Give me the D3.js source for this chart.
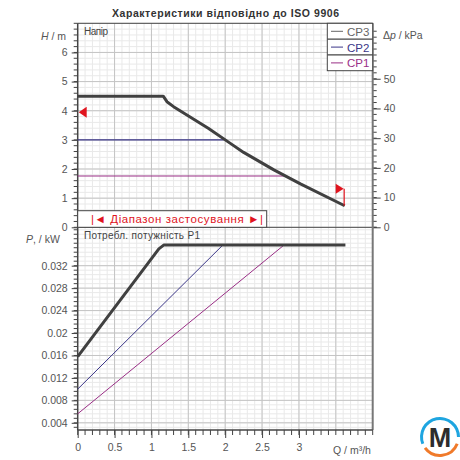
<!DOCTYPE html>
<html>
<head>
<meta charset="utf-8">
<script src="https://cdn.jsdelivr.net/npm/d3@7"></script>
<style>
  body { margin: 0; background: #fff; }
  svg { font-family: "Liberation Sans", Arial, sans-serif; }
</style>
</head>
<body>
<svg id="chart" width="460" height="460"></svg>
<script>
// head curves (H / m against Q / m3/h)
const qCP3 = [0, 1.16, 1.21, 1.30, 1.77, 2.07, 2.25, 2.66, 3.02, 3.62];
const hCP3 = [4.5, 4.5, 4.31, 4.14, 3.40, 2.88, 2.57, 1.97, 1.49, 0.74];
const qCP2 = [0, 1.98];
const hCP2 = [3.0, 3.0];
const qCP1 = [0, 2.8];
const hCP1 = [1.76, 1.76];

// power curves (P1 / kW)
const qP3 = [0, 1.1, 1.17, 3.63];
const pP3 = [0.0158, 0.0350, 0.0357, 0.0357];
const qP2 = [0, 1.97];
const pP2 = [0.0100, 0.0357];
const qP1 = [0, 2.8];
const pP1 = [0.0056, 0.0357];

// tick labels
const qTicks = [0, 0.5, 1, 1.5, 2, 2.5, 3];
const hTicks = [0, 1, 2, 3, 4, 5, 6];
const kpaTicks = [0, 10, 20, 30, 40, 50];
const pTicks = [0.004, 0.008, 0.012, 0.016, 0.02, 0.024, 0.028, 0.032];

const seriesNames = ['CP3', 'CP2', 'CP1'];
const seriesColors = ['#404040', '#3b3688', '#9a2f86'];
const labelColors = ['#666', '#3b3688', '#9a2f86'];

const svg = d3.select('#chart');

const leftX = 77.7, rightX = 372.7, topY = 23.3, midY = 227.3, bottomY = 430;

const x = d3.scaleLinear().domain([0, 4]).range([leftX, rightX]);
const yH = d3.scaleLinear().domain([0, 7]).range([midY, topY]);
const yK = d3.scaleLinear().domain([0, 7 * 9.81]).range([midY, topY]);
const yP = d3.scaleLinear().domain([0.00272, 0.03884]).range([bottomY, midY]);

const grid = svg.append('g');

// minor grid
grid.selectAll('.vmin').data(d3.range(0, 4.01, 0.1)).enter().append('line')
    .attr('x1', d => x(d)).attr('x2', d => x(d))
    .attr('y1', topY).attr('y2', bottomY)
    .attr('stroke', '#e9e9e9');
grid.selectAll('.hmin').data(d3.range(0, 7.01, 0.2)).enter().append('line')
    .attr('x1', leftX).attr('x2', rightX)
    .attr('y1', d => yH(d)).attr('y2', d => yH(d))
    .attr('stroke', '#e9e9e9');
grid.selectAll('.pmin').data(d3.range(0.0032, 0.0388, 0.0008)).enter().append('line')
    .attr('x1', leftX).attr('x2', rightX)
    .attr('y1', d => yP(d)).attr('y2', d => yP(d))
    .attr('stroke', '#e9e9e9');

// major grid
grid.selectAll('.vmaj').data(d3.range(0.5, 4, 0.5)).enter().append('line')
    .attr('x1', d => x(d)).attr('x2', d => x(d))
    .attr('y1', topY).attr('y2', bottomY)
    .attr('stroke', '#c4c4c4');
grid.selectAll('.hmaj').data(d3.range(1, 7, 1)).enter().append('line')
    .attr('x1', leftX).attr('x2', rightX)
    .attr('y1', d => yH(d)).attr('y2', d => yH(d))
    .attr('stroke', '#c4c4c4');
grid.selectAll('.pmaj').data(pTicks).enter().append('line')
    .attr('x1', leftX).attr('x2', rightX)
    .attr('y1', d => yP(d)).attr('y2', d => yP(d))
    .attr('stroke', '#c4c4c4');

// frame
svg.append('line').attr('x1', leftX).attr('x2', rightX).attr('y1', topY).attr('y2', topY)
    .attr('stroke', '#444');
svg.append('line').attr('x1', leftX).attr('x2', rightX + 4).attr('y1', midY).attr('y2', midY)
    .attr('stroke', '#444');

// axes
const tickColor = '#444';
const axisH = d3.axisLeft(yH).tickValues(hTicks).tickSize(6).tickPadding(4).tickFormat(d3.format('d'));
const axisP = d3.axisLeft(yP).tickValues(pTicks).tickSize(6).tickPadding(4).tickFormat(d => String(+d.toFixed(3)));
const axisK = d3.axisRight(yK).tickValues(kpaTicks).tickSize(8).tickPadding(3).tickFormat(d3.format('d'));
const axisQ = d3.axisBottom(x).tickValues(qTicks).tickSize(8).tickPadding(6).tickFormat(d => String(d));

function styleAxis(g) {
    g.select('.domain').remove();
    g.selectAll('line').attr('stroke', tickColor);
    g.selectAll('text').attr('fill', '#555').attr('font-size', 10.5)
        .attr('font-family', '"Liberation Sans", Arial, sans-serif');
}

// minor ticks
svg.append('g').selectAll('line').data(d3.range(0, 7.01, 0.2)).enter().append('line')
    .attr('x1', leftX - 4).attr('x2', leftX).attr('y1', d => yH(d)).attr('y2', d => yH(d))
    .attr('stroke', tickColor);
svg.append('g').selectAll('line').data(d3.range(0.0032, 0.0388, 0.0008)).enter().append('line')
    .attr('x1', leftX - 4).attr('x2', leftX).attr('y1', d => yP(d)).attr('y2', d => yP(d))
    .attr('stroke', tickColor);
svg.append('g').selectAll('line').data(d3.range(0, 68, 2)).enter().append('line')
    .attr('x1', rightX).attr('x2', rightX + 4).attr('y1', d => yK(d)).attr('y2', d => yK(d))
    .attr('stroke', tickColor);
svg.append('g').selectAll('line').data(d3.range(0, 4.01, 0.1)).enter().append('line')
    .attr('x1', d => x(d)).attr('x2', d => x(d)).attr('y1', bottomY).attr('y2', bottomY + 5)
    .attr('stroke', tickColor);

svg.append('g').attr('transform', `translate(${leftX},0)`).call(axisH).call(styleAxis);
svg.append('g').attr('transform', `translate(${leftX},0)`).call(axisP).call(styleAxis);
svg.append('g').attr('transform', `translate(${rightX},0)`).call(axisK).call(styleAxis);
svg.append('g').attr('transform', `translate(0,${bottomY})`).call(axisQ).call(styleAxis);

// axis lines
svg.append('line').attr('x1', leftX).attr('x2', leftX).attr('y1', topY).attr('y2', bottomY)
    .attr('stroke', '#444').attr('stroke-width', 1.5);
svg.append('line').attr('x1', rightX).attr('x2', rightX).attr('y1', topY).attr('y2', bottomY)
    .attr('stroke', '#777').attr('stroke-width', 2);
svg.append('line').attr('x1', leftX).attr('x2', rightX).attr('y1', bottomY).attr('y2', bottomY)
    .attr('stroke', '#444').attr('stroke-width', 1.5);

// curves
const lineH = d3.line().x(d => x(d[0])).y(d => yH(d[1]));
const lineP = d3.line().x(d => x(d[0])).y(d => yP(d[1]));

const headData = [d3.zip(qCP3, hCP3), d3.zip(qCP2, hCP2), d3.zip(qCP1, hCP1)];
const powerData = [d3.zip(qP3, pP3), d3.zip(qP2, pP2), d3.zip(qP1, pP1)];

[2, 1].forEach(i => {
    svg.append('path').attr('d', lineH(headData[i])).attr('fill', 'none')
        .attr('stroke', seriesColors[i]).attr('stroke-width', 1.2);
    svg.append('path').attr('d', lineP(powerData[i])).attr('fill', 'none')
        .attr('stroke', seriesColors[i]).attr('stroke-width', 1);
});
svg.append('path').attr('d', lineH(headData[0])).attr('fill', 'none')
    .attr('stroke', seriesColors[0]).attr('stroke-width', 3).attr('stroke-linejoin', 'round');
svg.append('path').attr('d', lineP(powerData[0])).attr('fill', 'none')
    .attr('stroke', seriesColors[0]).attr('stroke-width', 3).attr('stroke-linejoin', 'round');

// red markers
const red = '#e0141e';
svg.append('path')
    .attr('d', `M${x(0) + 1},${yH(3.95)} L${x(0) + 9},${yH(3.95) - 5.5} L${x(0) + 9},${yH(3.95) + 5.5} Z`)
    .attr('fill', red);
const qEnd = qCP3[qCP3.length - 1], hEnd = hCP3[hCP3.length - 1];
svg.append('line').attr('x1', x(qEnd) - 0.5).attr('x2', x(qEnd) - 0.5)
    .attr('y1', yH(hEnd) - 17).attr('y2', yH(hEnd)).attr('stroke', red).attr('stroke-width', 1.2);
svg.append('path')
    .attr('d', `M${x(qEnd) - 9},${yH(hEnd) - 22} L${x(qEnd) - 1},${yH(hEnd) - 17} L${x(qEnd) - 9},${yH(hEnd) - 12} Z`)
    .attr('fill', red);

// range box
svg.append('rect').attr('x', leftX).attr('y', 210.7).attr('width', 189).attr('height', 16.6)
    .attr('fill', '#fff').attr('stroke', '#444');
svg.append('text').attr('x', 91).attr('y', 223).attr('fill', red).attr('font-size', 11.5)
    .attr('textLength', 172).attr('lengthAdjust', 'spacing')
    .text('|◄ Діапазон застосування ►|');

// panel labels
svg.append('text').attr('x', 84).attr('y', 239).attr('fill', '#444').attr('font-size', 10)
    .attr('textLength', 116).attr('lengthAdjust', 'spacing')
    .text('Потребл. потужність P1');
svg.append('text').attr('x', 84).attr('y', 35).attr('fill', '#444').attr('font-size', 10)
    .attr('textLength', 24).attr('lengthAdjust', 'spacing').text('Напір');

// legend
const legend = svg.append('g');
const rowH = 15.8;
legend.append('rect').attr('x', 327.3).attr('y', topY).attr('width', rightX - 327.3).attr('height', rowH * 3)
    .attr('fill', '#fff').attr('stroke', '#444');
seriesNames.forEach((name, i) => {
    const y0 = topY + i * rowH;
    if (i > 0) legend.append('line').attr('x1', 327.3).attr('x2', rightX).attr('y1', y0).attr('y2', y0)
        .attr('stroke', '#444').attr('stroke-width', 1.3);
    legend.append('line').attr('x1', 331).attr('x2', 343).attr('y1', y0 + 8).attr('y2', y0 + 8)
        .attr('stroke', labelColors[i]);
    legend.append('text').attr('x', 347).attr('y', y0 + 12.5).attr('fill', labelColors[i])
        .attr('font-size', 11.5).text(name);
});

// title and axis titles
svg.append('text').attr('x', 112).attr('y', 17).attr('fill', '#333').attr('font-size', 10.5)
    .attr('font-weight', 'bold').attr('textLength', 227).attr('lengthAdjust', 'spacing')
    .text('Характеристики відповідно до ISO 9906');

const hLabel = svg.append('text').attr('x', 41).attr('y', 40).attr('fill', '#555').attr('font-size', 10.5);
hLabel.append('tspan').attr('font-style', 'italic').text('H');
hLabel.append('tspan').text(' / m');

const kLabel = svg.append('text').attr('x', 383).attr('y', 39).attr('fill', '#555').attr('font-size', 10.5);
kLabel.append('tspan').text('Δ');
kLabel.append('tspan').attr('font-style', 'italic').text('p');
kLabel.append('tspan').text(' / kPa');

const pLabel = svg.append('text').attr('x', 26).attr('y', 243).attr('fill', '#555').attr('font-size', 10.5);
pLabel.append('tspan').attr('font-style', 'italic').text('P');
pLabel.append('tspan').text(', / kW');

svg.append('text').attr('x', 333).attr('y', 454).attr('fill', '#555').attr('font-size', 10.5)
    .text('Q / m³/h');

// logo
const logo = svg.append('g').attr('transform', 'translate(440,437)');
const arc = d3.arc().innerRadius(17).outerRadius(20);
logo.append('path').attr('d', arc({ startAngle: -Math.PI * 0.62, endAngle: Math.PI * 0.5 }))
    .attr('fill', '#1ea5e0');
logo.append('path').attr('d', arc({ startAngle: Math.PI * 0.62, endAngle: Math.PI * 1.3 }))
    .attr('fill', '#f07a2a');
logo.append('text').attr('x', 0).attr('y', 9.5).attr('text-anchor', 'middle')
    .attr('font-size', 27).attr('font-weight', 'bold').attr('fill', '#2d2d2d').text('M');
</script>
</body>
</html>
